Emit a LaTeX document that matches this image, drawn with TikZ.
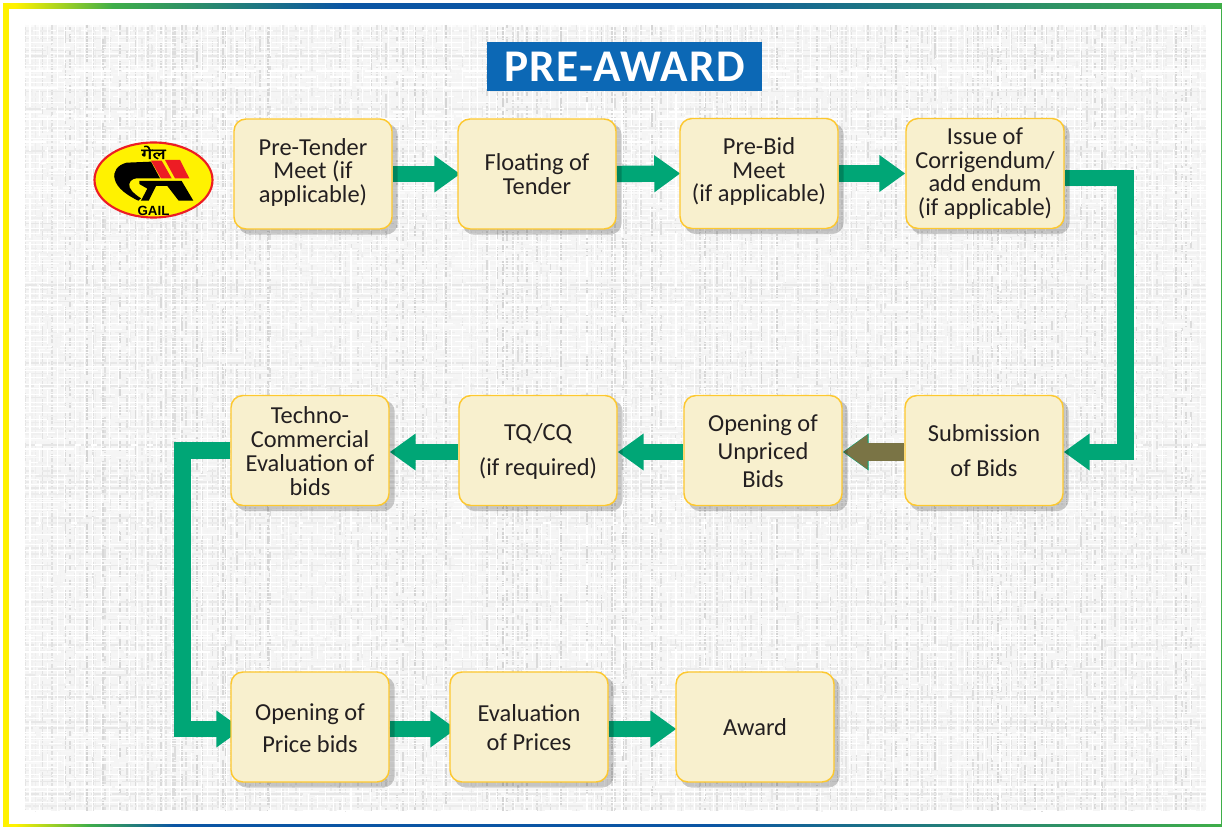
\documentclass[tikz,border=0pt]{standalone}
\usepackage{fontspec}
\setmainfont{Carlito}
\newfontfamily\devfont[Script=Devanagari,FakeBold=1.6]{Noto Sans}
\newfontfamily\logofont{Liberation Sans}
\usetikzlibrary{arrows.meta,calc}
\definecolor{arrowgreen}{HTML}{00A676}
\definecolor{olivearrow}{HTML}{7A7445}
\definecolor{boxfill}{HTML}{F8F0CE}
\definecolor{boxline}{HTML}{FDC82F}
\definecolor{titleblue}{HTML}{0C68B5}
\definecolor{txt}{HTML}{231F20}
\definecolor{fyellow}{HTML}{FFF200}
\definecolor{fgreen}{HTML}{3FAE49}
\definecolor{fblue}{HTML}{0B55A4}
\definecolor{logored}{HTML}{ED1C24}
\pgfdeclarehorizontalshading{topbar}{100bp}{color(0bp)=(fyellow); color(25.5bp)=(fyellow); color(29.5bp)=(fgreen); color(39bp)=(fblue); color(52.5bp)=(fblue); color(75bp)=(fgreen); color(100bp)=(fgreen)}
\pgfdeclarehorizontalshading{bottombar}{100bp}{color(0bp)=(fyellow); color(25.5bp)=(fyellow); color(28.5bp)=(fgreen); color(32bp)=(fblue); color(54bp)=(fblue); color(75bp)=(fgreen); color(100bp)=(fgreen)}
\pgfdeclarelayer{edges}
\pgfdeclarelayer{shad}
\pgfsetlayers{edges,shad,main}
\newcommand{\movedown}[1]{\rule{0pt}{\dimexpr 12pt+#1\relax}}
\newcommand{\moveup}[1]{\rule[-\dimexpr 4pt+#1\relax]{0pt}{0pt}}
\tikzset{
  x=0.75pt,y=-0.75pt,
  flowbox/.style={draw=boxline,fill=boxfill,line width=1.1pt,rounded corners=9pt,
    minimum width=118.5pt,minimum height=82.5pt,inner sep=0pt,align=center,text=txt,
    font=\fontsize{18.3pt}{#1}\selectfont},
  flowarrow/.style={draw=arrowgreen,line width=12.3pt,miter limit=10,
    -{Triangle[length=19.5pt,width=26.5pt,color=arrowgreen]}},
  oliveflow/.style={draw=olivearrow,line width=14pt,
    -{Triangle[length=18pt,width=25pt,color=olivearrow]}},
  shadowbox/.style={fill=black,opacity=.2,rounded corners=9pt},
}
\begin{document}
\begin{tikzpicture}
\useasboundingbox (0,0) rectangle (1222,827);
\begin{pgfonlayer}{edges}
  \fill[white] (0,0) rectangle (1222,827);
  % frame
  \path[shading=topbar,shading angle=0] (3,4) rectangle (1222,9);
  \path[shading=bottombar,shading angle=0] (3,824) rectangle (1222,827);
  \fill[fyellow] (3,4) rectangle (9,827);
  \fill[fgreen] (1220.5,4) rectangle (1222,827);
  % woven panel
  \fill[black!4] (25,25) rectangle (1206,811);
  \begin{scope}
    \clip (25,25) rectangle (1206,811);
    \pgfmathsetseed{17}
    \foreach \i in {0,...,235}{
      \pgfmathsetmacro{\va}{2+rnd*14}
      \pgfmathsetmacro{\vb}{1+rnd*7}
      \pgfmathsetmacro{\vc}{2+rnd*22}
      \pgfmathsetmacro{\vd}{1+rnd*5}
      \pgfmathsetmacro{\vg}{3+rnd*14}
      \pgfmathsetmacro{\vx}{25+\i*5+rnd*3}
      \draw[black!\vg,line width=1.3pt,dash pattern=on \va pt off \vb pt on \vc pt off \vd pt]
        (\vx,25) -- (\vx,811);
    }
    \foreach \i in {0,...,130}{
      \pgfmathsetmacro{\va}{3+rnd*18}
      \pgfmathsetmacro{\vb}{1+rnd*5}
      \pgfmathsetmacro{\vc}{3+rnd*30}
      \pgfmathsetmacro{\vd}{1+rnd*4}
      \pgfmathsetmacro{\vg}{1+rnd*9}
      \pgfmathsetmacro{\hy}{25+\i*6+rnd*2}
      \draw[black!\vg,line width=1.1pt,dash pattern=on \va pt off \vb pt on \vc pt off \vd pt]
        (25,\hy) -- (1206,\hy);
      \pgfmathsetmacro{\wo}{7+rnd*30}
      \pgfmathsetmacro{\wf}{2+rnd*9}
      \pgfmathsetmacro{\wy}{28+\i*6+rnd*3}
      \draw[white,line width=.8pt,dash pattern=on \wo pt off \wf pt]
        (25,\wy) -- (1206,\wy);
    }
    \foreach \i in {0,...,130}{
      \pgfmathsetmacro{\wo}{9+rnd*40}
      \pgfmathsetmacro{\wf}{2+rnd*12}
      \pgfmathsetmacro{\wx}{27+\i*9+rnd*4}
      \draw[white,line width=.8pt,dash pattern=on \wo pt off \wf pt]
        (\wx,25) -- (\wx,811);
    }
  \end{scope}
\end{pgfonlayer}

% title
\node[fill=titleblue,text=white,minimum width=206.25pt,minimum height=36.75pt,inner sep=0pt,
  font=\fontsize{34pt}{36pt}\selectfont\bfseries\addfontfeature{LetterSpace=3}] (title) at (624.5,66.5) {PRE-AWARD};

% process boxes
\node[flowbox=17.6pt] (a) at (313,174) {Pre-Tender\\Meet (if\\applicable\moveup{1.5pt})};
\node[flowbox=17.6pt] (b) at (537,174) {Floating of\\Tender};
\node[flowbox=17.6pt] (c) at (759,173.5) {Pre-Bid\\Meet\\(if applicable\moveup{1.5pt})};
\node[flowbox=17.6pt] (d) at (985,173.5) {Issue of\\Corrigendum/\\add endum\\(if applicable)};
\node[flowbox=26.3pt] (e) at (984,450.5) {\movedown{1.5pt}Submission\\of Bids};
\node[flowbox=21pt] (f) at (763,450.5) {\movedown{1pt}Opening of\\Unpriced\\Bids};
\node[flowbox=26pt] (g) at (538,450.5) {\movedown{2pt}TQ/CQ\\(if required)};
\node[flowbox=18pt] (h) at (310,450.5) {\movedown{1.5pt}Techno-\\Commercial\\Evaluation of\\bids};
\node[flowbox=24pt] (i) at (310,727) {\movedown{3pt}Opening of\\Price bids};
\node[flowbox=22pt] (j) at (529,727) {\movedown{1.5pt}Evaluation\\of Prices};
\node[flowbox=17.6pt] (k) at (755,727) {Award};

\coordinate (elbowright) at (1125.5,178);
\coordinate (elbowleft) at (182.5,729);

\begin{pgfonlayer}{edges}
  \draw[flowarrow] (a.east) -- ($(b.west)+(3,0)$);
  \draw[flowarrow] (b.east) -- ($(c.west)+(1,0)$);
  \draw[flowarrow] (c.east) -- (d.west);
  \draw[flowarrow] (d.east |- elbowright) -- (elbowright) -- (elbowright |- {$(e.east)+(0,1.5)$}) -- ($(e.east)+(0,1.5)$);
  \draw[flowarrow] ($(e.west)+(0,1.5)$) -- ($(f.east)+(0,1.5)$);
  \draw[oliveflow] ($(e.west)+(0,1.5)$) -- ($(f.east)+(1,1.5)$);
  \draw[flowarrow] ($(f.west)+(0,1.5)$) -- ($(g.east)+(0,1.5)$);
  \draw[flowarrow] ($(g.west)+(0,1.5)$) -- ($(h.east)+(0,1.5)$);
  \draw[flowarrow] (h.west) -- (elbowleft |- h.west) -- (elbowleft) -- ($(i.west |- elbowleft)+(12,0)$);
  \draw[flowarrow] ($(i.east)+(0,2)$) -- ($(j.west)+(7,2)$);
  \draw[flowarrow] ($(j.east)+(0,2)$) -- ($(k.west)+(1,2)$);
\end{pgfonlayer}

\begin{pgfonlayer}{shad}
  \foreach \n in {a,b,c,d,e,f,g,h,i,j,k}{
    \fill[shadowbox] ($(\n.south west)+(5,5)$) rectangle ($(\n.north east)+(5,5)$);
  }
\end{pgfonlayer}

% logo
\draw[fill=fyellow,draw=logored,line width=1.6pt] (153.5,180) ellipse [x radius=59,y radius=37.5];
\begin{scope}[shift={(80,110)},x=0.25pt,y=-0.25pt]
  \fill[black] (213,155) -- (140,158) .. controls (112,165) and (98,185) .. (104,207)
    .. controls (110,235) and (145,258) .. (175,272) -- (183,265)
    .. controls (160,250) and (145,235) .. (148,222) .. controls (150,212) and (158,206) .. (170,205)
    -- (240,205) -- cycle;
  \fill[black] (178,213) -- (305,213) -- (340,272) -- (296,272) -- (262,228) -- (228,228)
    -- (206,272) -- (183,272) -- (202,236) -- (178,222) -- cycle;
  \fill[logored] (213,152) -- (245,152) -- (275,205) -- (243,205) -- cycle;
  \fill[logored] (255,150) -- (300,150) -- (328,205) -- (285,205) -- cycle;
\end{scope}
\node[inner sep=0pt,text=black,xscale=1.35,font=\devfont\fontsize{11pt}{12pt}\selectfont] (logotop) at (153.5,152.5) {गेल};
\node[inner sep=0pt,text=black,font=\logofont\bfseries\fontsize{10pt}{11pt}\selectfont] (logoname) at (153.5,211) {GAIL};
\end{tikzpicture}
\end{document}
